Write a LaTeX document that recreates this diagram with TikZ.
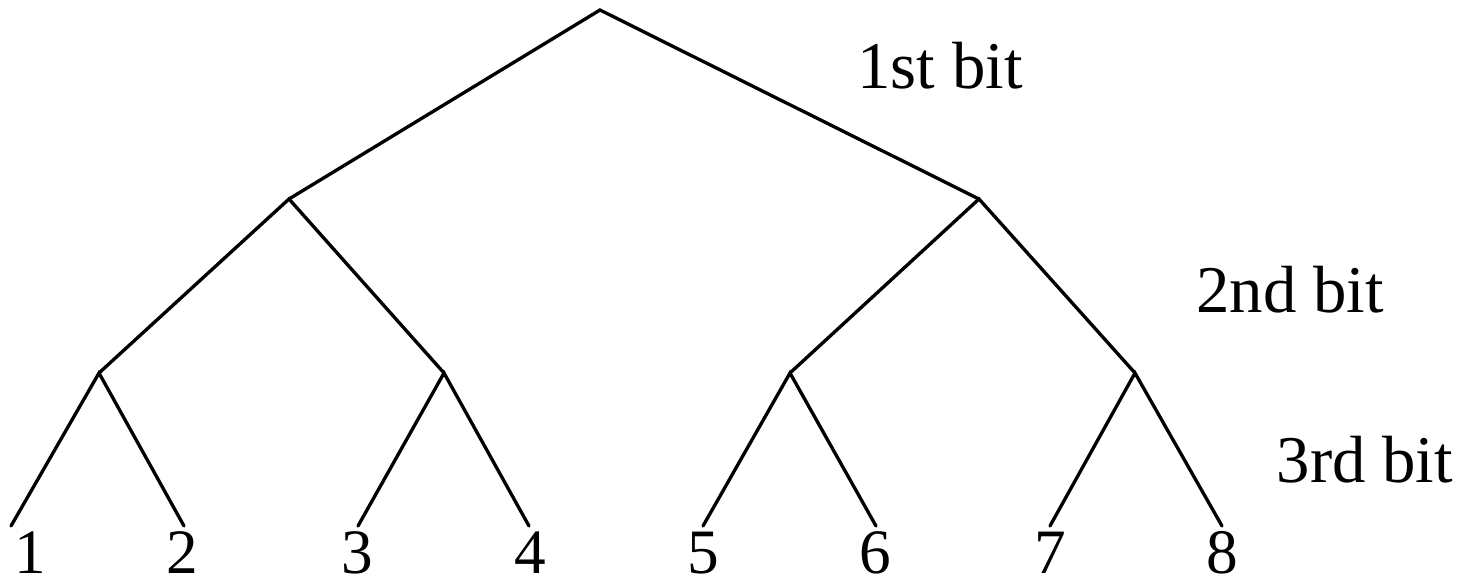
\documentclass[tikz,border=0pt]{standalone}
\usepackage{fontspec}
\setmainfont{Liberation Serif}
\usepackage{tikz}
\usetikzlibrary{positioning, calc}
\tikzset{
	% ramo dell'albero
	ramo/.style={line width=0.95pt, line cap=round},
	% etichetta foglia
	foglia/.style={inner sep=0pt, anchor=base, font=\fontsize{18}{18}\selectfont},
	% etichetta livello
	livello/.style={inner sep=0pt, font=\fontsize{19}{19}\selectfont},
}

\begin{document}
\begin{tikzpicture}[x=1cm, y=1cm]
    \useasboundingbox (0,0) rectangle (14.65,5.82);
    % nodi interni
    \coordinate (r) at (6.00,5.72);
    \coordinate (a) at (2.89,3.83);
    \coordinate (b) at (9.79,3.83);
    \coordinate (c) at (0.99,2.09);
    \coordinate (d) at (4.44,2.09);
    \coordinate (e) at (7.90,2.09);
    \coordinate (f) at (11.35,2.09);
    % estremi delle foglie
    \foreach \n/\x in {1/0.11, 2/1.84, 3/3.58, 4/5.29, 5/7.03, 6/8.76, 7/10.50, 8/12.22}
        \coordinate (l\n) at (\x,0.56);
    \draw[ramo] (a) -- (r) -- (b);
    \draw[ramo] (c) -- (a) -- (d);
    \draw[ramo] (e) -- (b) -- (f);
    \draw[ramo] (l1) -- (c) -- (l2);
    \draw[ramo] (l3) -- (d) -- (l4);
    \draw[ramo] (l5) -- (e) -- (l6);
    \draw[ramo] (l7) -- (f) -- (l8);
    % numeri delle foglie
    \foreach \n/\x in {1/0.30, 2/1.82, 3/3.57, 4/5.30, 5/7.03, 6/8.75, 7/10.50, 8/12.22}
        \node[foglia] (n\n) at (\x,0.09) {\n};
    \node[livello] (bit1) at (9.40,5.16) {1st bit};
    \node[livello] (bit2) at (12.90,2.92) {2nd bit};
    \node[livello] (bit3) at (13.65,1.22) {3rd bit};
  \end{tikzpicture}
\end{document}
